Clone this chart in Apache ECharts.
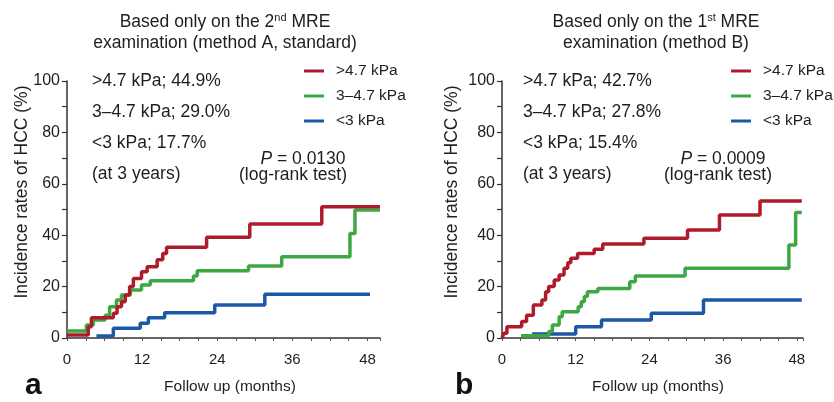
<!DOCTYPE html>
<html>
<head>
<meta charset="utf-8">
<script src="https://cdn.jsdelivr.net/npm/echarts@6/dist/echarts.min.js"></script>
<style>
html,body{margin:0;padding:0;background:#fff;}
#chart{width:834px;height:402px;}
</style>
</head>
<body>
<div id="chart"></div>
<script>
// ---- Data (months, cumulative incidence %) ----
const seriesNames = ['>4.7 kPa', '3\u20134.7 kPa', '<3 kPa'];
const xTicks = [0, 12, 24, 36, 48];

// Panel a: based only on the 2nd MRE examination
const aHighX = [0, 3.4, 3.9, 7.4, 8.0, 8.7, 9.3, 10.0, 10.6, 11.9, 12.8, 14.4, 15.3, 15.9, 22.3, 29.2, 40.7, 50];
const aHighY = [1.2, 4.4, 7.9, 9.6, 12.2, 14.1, 16.7, 20.0, 23.2, 25.8, 27.7, 30.4, 32.9, 35.3, 39.2, 44.4, 51.1, 51.1];
const aMidX = [0, 3.1, 4.2, 6.1, 6.8, 7.9, 8.7, 10.1, 11.9, 13.3, 20.2, 20.8, 29.0, 34.3, 45.2, 46.0, 50];
const aMidY = [2.7, 5.1, 7.0, 8.9, 12.2, 14.8, 16.7, 18.7, 20.6, 22.3, 24.1, 26.2, 28.0, 31.6, 40.7, 49.8, 49.8];
const aLowX = [4.7, 7.4, 11.7, 13.0, 15.6, 23.6, 31.6, 48.4];
const aLowY = [0.8, 3.8, 5.7, 7.9, 9.8, 12.8, 17.0, 17.0];

// Panel b: based only on the 1st MRE examination
const bHighX = [0, 0.3, 0.8, 3.2, 4.0, 5.1, 6.5, 7.1, 7.6, 8.5, 9.3, 10.1, 10.7, 11.2, 12.3, 15.0, 16.4, 23.1, 30.2, 35.4, 42.0, 48.8];
const bHighY = [0, 1.8, 4.4, 6.4, 8.9, 12.8, 14.8, 18.0, 20.0, 22.6, 24.5, 27.1, 29.3, 31.0, 32.9, 34.5, 36.6, 38.8, 42.0, 47.9, 53.3, 53.3];
const bMidX = [3.1, 7.6, 8.2, 9.3, 9.8, 12.4, 12.9, 13.4, 13.9, 15.6, 20.8, 21.7, 29.8, 46.7, 47.8, 48.8];
const bMidY = [0.9, 2.5, 5.1, 8.3, 10.2, 12.2, 14.1, 16.1, 18.0, 19.3, 21.9, 24.1, 27.1, 36.2, 48.8, 48.8];
const bLowX = [4.9, 12.0, 16.2, 24.3, 32.8, 48.8];
const bLowY = [1.6, 4.4, 7.0, 9.6, 14.8, 14.8];

const aNotes = ['>4.7 kPa; 44.9%', '3\u20134.7 kPa; 29.0%', '<3 kPa; 17.7%', '(at 3 years)'];
const bNotes = ['>4.7 kPa; 42.7%', '3\u20134.7 kPa; 27.8%', '<3 kPa; 15.4%', '(at 3 years)'];
const aP = '0.0130';
const bP = '0.0009';

// ---- Styles ----
const colors = ['#AE1C2C', '#3DA843', '#1C58A8'];
const FONT = '"Liberation Sans", Arial, Helvetica, sans-serif';
const TXT = '#1e1e1e';

function zip(xs, ys) { return xs.map((x, i) => [x, ys[i]]); }

function xAxisOpt(gi, max) {
  return {
    type: 'value', gridIndex: gi, min: 0, max: max, interval: 12,
    axisLine: { show: true, lineStyle: { color: '#333', width: 1.5 } },
    axisTick: { show: true, length: 3, lineStyle: { color: '#555' } },
    minorTick: { show: true, splitNumber: 4, length: 3, lineStyle: { color: '#555' } },
    splitLine: { show: false },
    axisLabel: {
      margin: 14, fontSize: 15, color: TXT, fontFamily: FONT,
      formatter: v => (xTicks.indexOf(v) >= 0 ? String(v) : '')
    }
  };
}
function yAxisOpt(gi) {
  return {
    type: 'value', gridIndex: gi, min: 0, max: 100, interval: 20,
    axisLine: { show: true, lineStyle: { color: '#333', width: 1.5 } },
    axisTick: { show: true, length: 5, lineStyle: { color: '#333', width: 1.2 } },
    minorTick: { show: true, splitNumber: 2, length: 5, lineStyle: { color: '#333', width: 1.2 } },
    splitLine: { show: false },
    axisLabel: { margin: 7, fontSize: 16, color: TXT, fontFamily: FONT }
  };
}
function lineSeries(name, gi, xs, ys, c) {
  return {
    name: name, type: 'line', step: 'end', xAxisIndex: gi, yAxisIndex: gi,
    data: zip(xs, ys), showSymbol: false, symbol: 'none',
    lineStyle: { color: c, width: 3.5 }, itemStyle: { color: c },
    z: 3
  };
}
function legendOpt(left) {
  return {
    left: left, top: 63, orient: 'vertical', icon: 'rect', padding: 0,
    itemWidth: 20, itemHeight: 3, itemGap: 9,
    data: seriesNames,
    selectedMode: false,
    textStyle: { fontSize: 15.5, color: TXT, fontFamily: FONT, lineHeight: 16, padding: [0, 0, 0, 7] }
  };
}
function txt(x, y, text, opts) {
  return {
    type: 'text', x: x, y: y, silent: true,
    style: Object.assign({ text: text, font: '17.5px ' + FONT, fill: TXT, textAlign: 'left', textVerticalAlign: 'middle' }, opts || {})
  };
}
const noteRows = [81, 112, 143, 174];
function notes(x, arr) {
  return arr.map((t, i) => txt(x, noteRows[i], t));
}
function pText(cx, val) {
  return txt(cx, 159, '{i|P} = ' + val, {
    textAlign: 'center',
    rich: { i: { font: 'italic 17.5px ' + FONT, fill: TXT } }
  });
}
const supRich = { sup: { font: '11px ' + FONT, fill: TXT, verticalAlign: 'top', lineHeight: 20, padding: [0, 0, 8, 0] } };

function yTitle(x) {
  return { type: 'text', x: x, y: 192, rotation: Math.PI / 2, silent: true,
    style: { text: 'Incidence rates of HCC (%)', font: '17.5px ' + FONT, fill: TXT, textAlign: 'center', textVerticalAlign: 'middle' } };
}

const chart = echarts.init(document.getElementById('chart'), null, { renderer: 'canvas' });
chart.setOption({
  animation: false,
  backgroundColor: '#fff',
  textStyle: { fontFamily: FONT },
  grid: [
    { left: 67, top: 81, width: 313, height: 257 },
    { left: 502, top: 81, width: 301, height: 257 }
  ],
  xAxis: [xAxisOpt(0, 50), xAxisOpt(1, 49)],
  yAxis: [yAxisOpt(0), yAxisOpt(1)],
  legend: [legendOpt(304), legendOpt(731)],
  series: [
    lineSeries(seriesNames[2], 0, aLowX, aLowY, colors[2]),
    lineSeries(seriesNames[1], 0, aMidX, aMidY, colors[1]),
    lineSeries(seriesNames[0], 0, aHighX, aHighY, colors[0]),
    lineSeries(seriesNames[2], 1, bLowX, bLowY, colors[2]),
    lineSeries(seriesNames[1], 1, bMidX, bMidY, colors[1]),
    lineSeries(seriesNames[0], 1, bHighX, bHighY, colors[0])
  ],
  graphic: [].concat(
    [
      txt(225, 22, 'Based only on the 2{sup|nd} MRE', { textAlign: 'center', rich: supRich }),
      txt(225, 43, 'examination (method A, standard)', { textAlign: 'center' }),
      txt(656, 22, 'Based only on the 1{sup|st} MRE', { textAlign: 'center', rich: supRich }),
      txt(656, 43, 'examination (method B)', { textAlign: 'center' })
    ],
    notes(92, aNotes),
    notes(523, bNotes),
    [
      pText(303, aP),
      txt(293, 175, '(log-rank test)', { textAlign: 'center' }),
      pText(723, bP),
      txt(718, 175, '(log-rank test)', { textAlign: 'center' }),
      yTitle(22),
      yTitle(452),
      txt(230, 387, 'Follow up (months)', { textAlign: 'center', font: '15.5px ' + FONT }),
      txt(658, 387, 'Follow up (months)', { textAlign: 'center', font: '15.5px ' + FONT }),
      txt(25, 386, 'a', { font: 'bold 30px ' + FONT, fill: '#111' }),
      txt(455, 386, 'b', { font: 'bold 30px ' + FONT, fill: '#111' })
    ]
  )
});
</script>
</body>
</html>
